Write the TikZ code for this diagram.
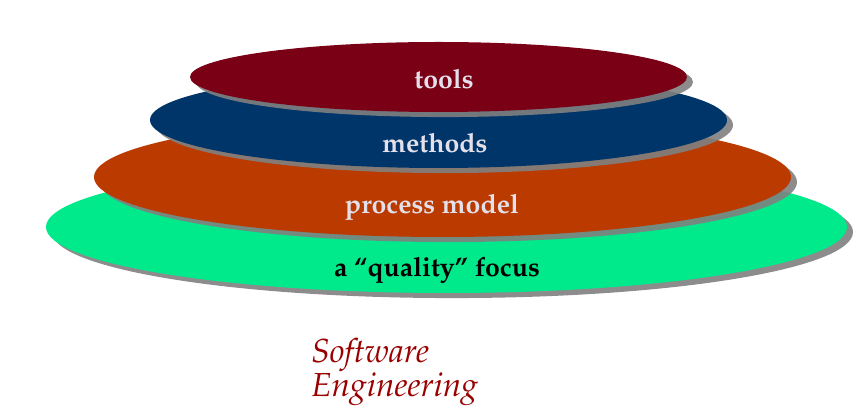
\documentclass[tikz,border=0pt]{standalone}
\usepackage[T1]{fontenc}
\usepackage{mathpazo}
\usepackage{tikz}
\usetikzlibrary{shapes.geometric, shadows}
\usepackage{xcolor}
\definecolor{toolred}{HTML}{7A0016}
\definecolor{methblue}{HTML}{00356A}
\definecolor{procorange}{HTML}{BA3A00}
\definecolor{qualgreen}{HTML}{00E98B}
\definecolor{paletext}{HTML}{E4E0EA}
\definecolor{titlered}{HTML}{990000}
\tikzset{
    layer/.style={
        ellipse, inner sep=0pt,
        drop shadow={shadow xshift=4.5pt, shadow yshift=-3.8pt,
                     fill=black!50, opacity=0.9}
    },
    layertext/.style={
        font=\fontsize{20}{24}\selectfont\bfseries,
        text=paletext, inner sep=0pt
    },
    caption/.style={
        font=\fontsize{25}{22.5}\selectfont\itshape,
        text=titlered, align=left, anchor=north west, inner sep=0pt
    }
}

\begin{document}
\begin{tikzpicture}[x=0.75pt, y=-0.75pt]
    \useasboundingbox (0,0) rectangle (868,416);

    % layers, bottom one first
    \node[layer, fill=qualgreen, minimum width=600.75pt, minimum height=99pt]
        (quality) at (446.5,227) {};
    \node[layer, fill=procorange, minimum width=522.75pt, minimum height=90pt]
        (process) at (442.5,177) {};
    \node[layer, fill=methblue, minimum width=432.75pt, minimum height=72pt]
        (methods) at (438.5,120) {};
    \node[layer, fill=toolred, minimum width=372.75pt, minimum height=52.5pt]
        (tools) at (438.5,77) {};

    \node[layertext] (toolslbl) at (444,79) {tools};
    \node[layertext] (methodslbl) at (435,143) {methods};
    \node[layertext] (processlbl) at (432,207) {process model};
    \node[layertext, text=black] (qualitylbl) at (437,270) {a ``quality'' focus};

    \node[caption] (title) at (311,338) {Software\\Engineering};
\end{tikzpicture}
\end{document}
